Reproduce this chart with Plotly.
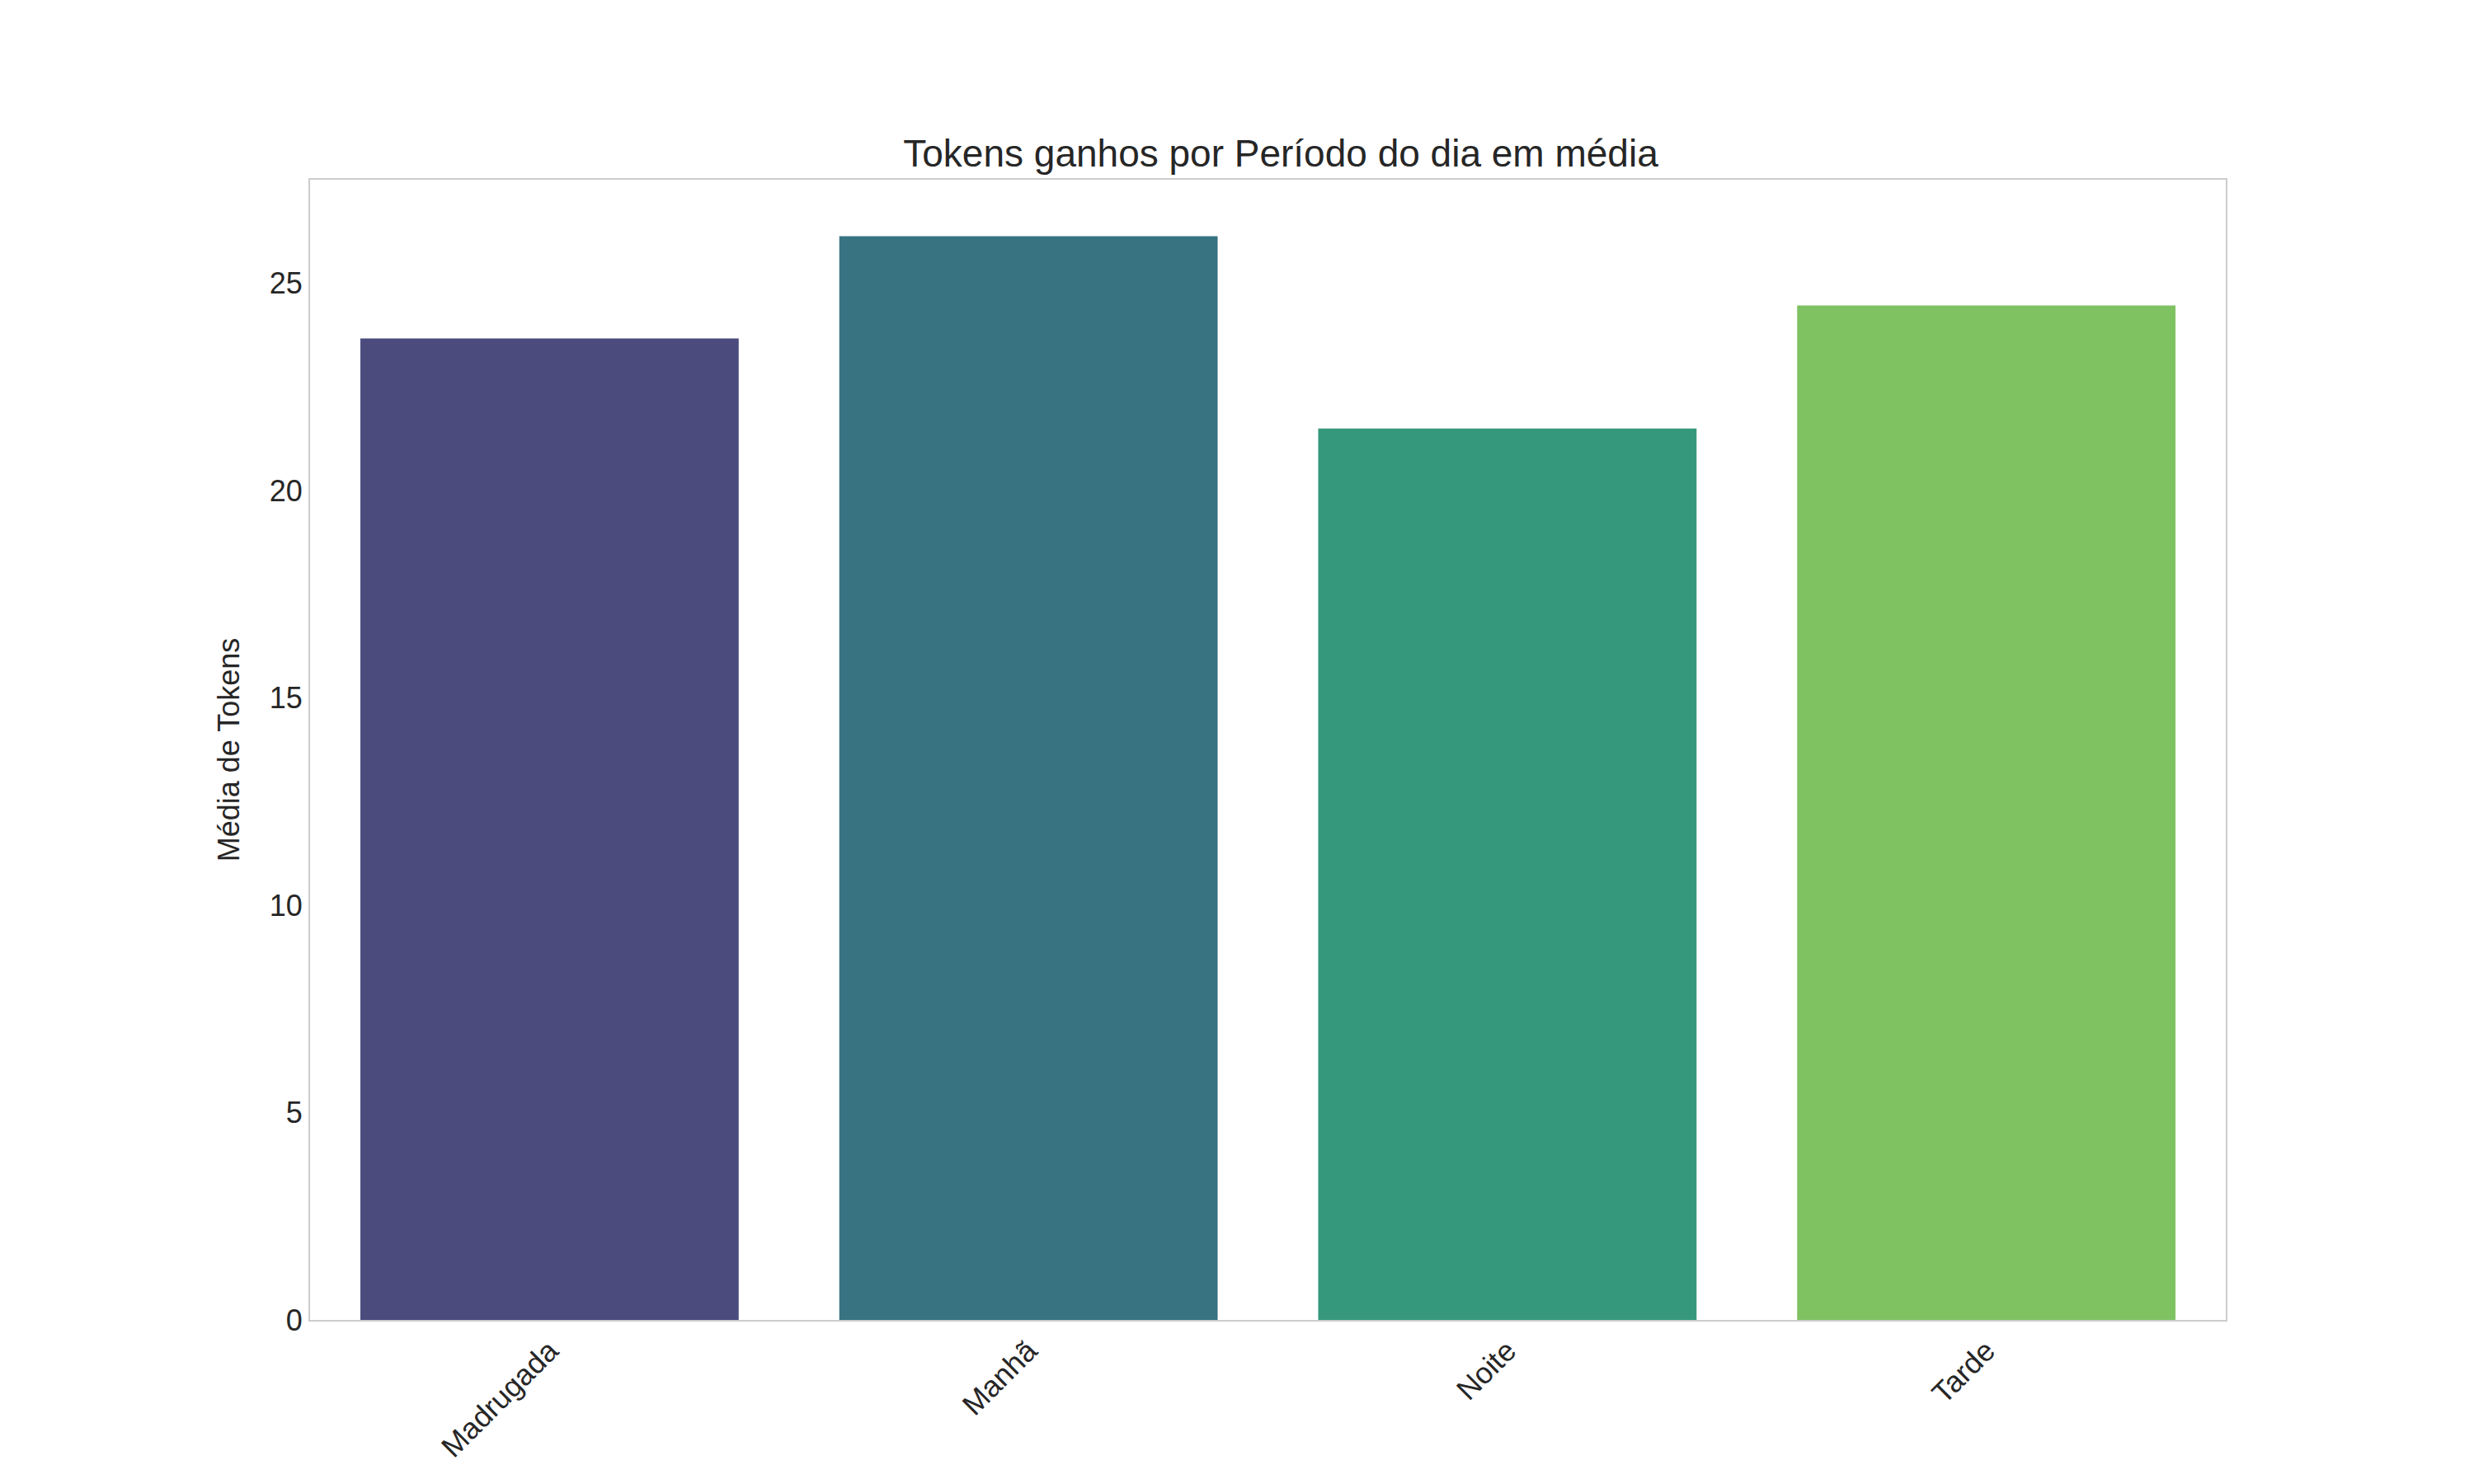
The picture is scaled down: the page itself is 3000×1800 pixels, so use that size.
import plotly.graph_objects as go

periodos = ['Madrugada', 'Manhã', 'Noite', 'Tarde']
media_tokens = [23.67, 26.14, 21.5, 24.47]
cores = ['#4b4c7d', '#377381', '#35987c', '#7fc262']
y_ticks = [0, 5, 10, 15, 20, 25]

fig = go.Figure()
fig.add_trace(go.Bar(x=periodos, y=media_tokens, marker_color=cores, marker_line_width=0, width=0.79))

axis_line = dict(showline=True, linecolor='#cccccc', linewidth=2, mirror=True,
                 showgrid=False, zeroline=False, ticks='', tickfont=dict(size=36, color='#262626'))

fig.update_layout(
    width=3000, height=1800,
    paper_bgcolor='white', plot_bgcolor='white',
    font=dict(family='Liberation Sans, Arial', color='#262626'),
    title=dict(text='Tokens ganhos por Período do dia em média', x=0.515, xanchor='center',
               y=0.892, yanchor='bottom', font=dict(size=46)),
    margin=dict(l=368, r=309, t=210, b=207),
    showlegend=False,
)
fig.update_xaxes(**axis_line, tickangle=-45, range=[-0.5, 3.5])
fig.update_yaxes(**axis_line, range=[0, 27.5], tickvals=y_ticks,
                 title=dict(text='Média de Tokens', font=dict(size=36), standoff=25))

fig.write_html("out.html")
